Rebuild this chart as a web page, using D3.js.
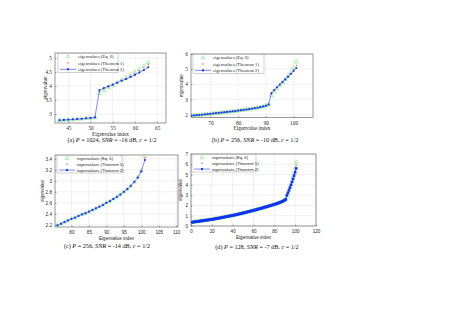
<!DOCTYPE html>
<html><head><meta charset="utf-8">
<script src="https://cdn.jsdelivr.net/npm/d3@7"></script>
<style>body{margin:0;background:#fff}svg{display:block}</style>
</head><body>
<script>
// ---------- DATA ----------
const legendLabels = ["eigenvalues (Eq. 6)", "eigenvalues (Theorem 1)", "eigenvalues (Theorem 2)"];

// (a) P = 1024, SNR = -16 dB
const idxA = [43,44,45,46,47,48,49,50,51,52,53,54,55,56,57,58,59,60,61,62,63];
const eqA  = [2.78,2.79,2.80,2.81,2.82,2.83,2.85,2.86,2.88,3.75,3.85,3.95,4.03,4.12,4.22,4.31,4.40,4.50,4.60,4.72,4.85];
const th1A = [2.78,2.79,2.80,2.81,2.82,2.83,2.85,2.86,2.88,3.80,3.89,3.97,4.04,4.12,4.20,4.28,4.36,4.45,4.54,4.65,4.76];
const th2A = [2.78,2.79,2.80,2.81,2.82,2.83,2.85,2.86,2.88,3.85,3.93,3.99,4.05,4.12,4.19,4.25,4.32,4.40,4.48,4.57,4.67];
const xTicksA = [45,50,55,60,65];
const yTicksA = [3,3.5,4,4.5,5];

// (b) P = 256, SNR = -10 dB
const idxB = [63,64,65,66,67,68,69,70,71,72,73,74,75,76,77,78,79,80,81,82,83,84,85,86,87,88,89,90,91,92,93,94,95,96,97,98,99,100,101];
const eqB  = [1.92,1.94,1.96,1.97,1.99,2.01,2.03,2.05,2.07,2.09,2.11,2.13,2.15,2.17,2.19,2.21,2.23,2.26,2.28,2.31,2.33,2.36,2.39,2.42,2.45,2.49,2.53,2.58,2.66,3.25,3.50,3.72,3.92,4.12,4.32,4.55,4.80,5.10,5.50];
const th1B = [1.92,1.94,1.96,1.97,1.99,2.01,2.03,2.05,2.07,2.09,2.11,2.13,2.15,2.17,2.19,2.21,2.23,2.26,2.28,2.31,2.33,2.36,2.39,2.42,2.45,2.49,2.53,2.58,2.66,3.35,3.57,3.77,3.96,4.14,4.32,4.52,4.73,4.97,5.25];
const th2B = [1.92,1.94,1.96,1.97,1.99,2.01,2.03,2.05,2.07,2.09,2.11,2.13,2.15,2.17,2.19,2.21,2.23,2.26,2.28,2.31,2.33,2.36,2.39,2.42,2.45,2.49,2.53,2.58,2.66,3.42,3.62,3.80,3.98,4.15,4.32,4.50,4.68,4.87,5.07];
const xTicksB = [70,80,90,100];
const yTicksB = [2,3,4,5,6];

// (c) P = 256, SNR = -14 dB
const idxC = [76,77,78,79,80,81,82,83,84,85,86,87,88,89,90,91,92,93,94,95,96,97,98,99,100,101];
const eqC  = [2.19,2.22,2.25,2.28,2.31,2.33,2.36,2.39,2.41,2.44,2.47,2.50,2.53,2.56,2.60,2.63,2.67,2.71,2.75,2.80,2.85,2.91,2.98,3.07,3.19,3.45];
const th1C = [2.19,2.22,2.25,2.28,2.31,2.33,2.36,2.39,2.41,2.44,2.47,2.50,2.53,2.56,2.60,2.63,2.67,2.71,2.75,2.80,2.85,2.91,2.98,3.06,3.18,3.42];
const th2C = [2.19,2.22,2.25,2.28,2.31,2.33,2.36,2.39,2.41,2.44,2.47,2.50,2.53,2.56,2.60,2.63,2.67,2.71,2.75,2.80,2.85,2.91,2.98,3.06,3.17,3.38];
const xTicksC = [80,85,90,95,100,105,110];
const yTicksC = [2.2,2.4,2.6,2.8,3,3.2,3.4];

// (d) P = 128, SNR = -7 dB
const idxD = [1,2,3,4,5,6,7,8,9,10,11,12,13,14,15,16,17,18,19,20,21,22,23,24,25,26,27,28,29,30,31,32,33,34,35,36,37,38,39,40,41,42,43,44,45,46,47,48,49,50,51,52,53,54,55,56,57,58,59,60,61,62,63,64,65,66,67,68,69,70,71,72,73,74,75,76,77,78,79,80,81,82,83,84,85,86,87,88,89,90,91,92,93,94,95,96,97,98,99,100,101];
const th2D = [0.37,0.38,0.40,0.41,0.43,0.44,0.45,0.47,0.48,0.50,0.51,0.53,0.54,0.56,0.57,0.58,0.60,0.61,0.63,0.64,0.66,0.68,0.70,0.72,0.74,0.75,0.77,0.79,0.81,0.83,0.85,0.87,0.89,0.91,0.93,0.95,0.97,0.99,1.01,1.03,1.05,1.07,1.10,1.12,1.14,1.17,1.19,1.21,1.24,1.26,1.29,1.31,1.34,1.36,1.39,1.41,1.44,1.47,1.49,1.52,1.55,1.57,1.60,1.63,1.66,1.69,1.71,1.74,1.77,1.80,1.83,1.86,1.89,1.92,1.95,1.98,2.01,2.04,2.07,2.10,2.13,2.17,2.20,2.24,2.28,2.32,2.36,2.41,2.46,2.52,2.60,2.98,3.22,3.47,3.73,4.00,4.28,4.58,4.90,5.22,5.60];
const th1D = [0.37,0.38,0.40,0.41,0.43,0.44,0.45,0.47,0.48,0.50,0.51,0.53,0.54,0.56,0.57,0.58,0.60,0.61,0.63,0.64,0.66,0.68,0.70,0.72,0.74,0.75,0.77,0.79,0.81,0.83,0.85,0.87,0.89,0.91,0.93,0.95,0.97,0.99,1.01,1.03,1.05,1.07,1.10,1.12,1.14,1.17,1.19,1.21,1.24,1.26,1.29,1.31,1.34,1.36,1.39,1.41,1.44,1.47,1.49,1.52,1.55,1.57,1.60,1.63,1.66,1.69,1.71,1.74,1.77,1.80,1.83,1.86,1.89,1.92,1.95,1.98,2.01,2.04,2.07,2.10,2.13,2.17,2.20,2.24,2.28,2.32,2.36,2.41,2.46,2.52,2.60,2.92,3.18,3.45,3.73,4.02,4.33,4.66,5.02,5.40,5.90];
const eqD  = [0.37,0.38,0.40,0.41,0.43,0.44,0.45,0.47,0.48,0.50,0.51,0.53,0.54,0.56,0.57,0.58,0.60,0.61,0.63,0.64,0.66,0.68,0.70,0.72,0.74,0.75,0.77,0.79,0.81,0.83,0.85,0.87,0.89,0.91,0.93,0.95,0.97,0.99,1.01,1.03,1.05,1.07,1.10,1.12,1.14,1.17,1.19,1.21,1.24,1.26,1.29,1.31,1.34,1.36,1.39,1.41,1.44,1.47,1.49,1.52,1.55,1.57,1.60,1.63,1.66,1.69,1.71,1.74,1.77,1.80,1.83,1.86,1.89,1.92,1.95,1.98,2.01,2.04,2.07,2.10,2.13,2.17,2.20,2.24,2.28,2.32,2.36,2.41,2.46,2.52,2.60,2.85,3.12,3.42,3.73,4.05,4.40,4.78,5.20,5.65,6.20];
const xTicksD = [0,20,40,60,80,100,120];
const yTicksD = [0,1,2,3,4,5,6,7];

// ---------- DRAW ----------
const W = 474, H = 335;
const svg = d3.select("body").append("svg").attr("width", W).attr("height", H);
const SERIF = "'Liberation Serif','Times New Roman',serif";
const SANS = "'Liberation Sans',Arial,sans-serif";

function panel(p) {
  const x = d3.scaleLinear().domain(p.xlim).range([p.l, p.r]);
  const y = d3.scaleLinear().domain(p.ylim).range([p.b, p.t]);
  const g = svg.append("g");
  // grid
  g.append("g").selectAll("line").data(p.xt).join("line")
    .attr("x1", d => x(d)).attr("x2", d => x(d)).attr("y1", p.t).attr("y2", p.b)
    .attr("stroke", "#e3e3e3").attr("stroke-width", 0.5);
  g.append("g").selectAll("line").data(p.yt).join("line")
    .attr("y1", d => y(d)).attr("y2", d => y(d)).attr("x1", p.l).attr("x2", p.r)
    .attr("stroke", "#e3e3e3").attr("stroke-width", 0.5);
  // axes with MATLAB-style inward ticks
  const ax = g.append("g").attr("transform", `translate(0,${p.b})`)
    .call(d3.axisBottom(x).tickValues(p.xt).tickSize(-1.5).tickPadding(3.5).tickFormat(d3.format("")));
  const ay = g.append("g").attr("transform", `translate(${p.l},0)`)
    .call(d3.axisLeft(y).tickValues(p.yt).tickSize(-1.5).tickPadding(3).tickFormat(d => String(+d.toFixed(2))));
  [ax, ay].forEach(a => {
    a.select(".domain").remove();
    a.selectAll("line").attr("stroke", "#333").attr("stroke-width", 0.4);
    a.selectAll("text").attr("font-family", p.font).attr("font-size", p.fs).attr("fill", "#262626");
  });
  // box
  g.append("rect").attr("x", p.l).attr("y", p.t).attr("width", p.r - p.l).attr("height", p.b - p.t)
    .attr("fill", "none").attr("stroke", "#333").attr("stroke-width", 0.5);

  const clip = "clip" + p.id;
  svg.append("clipPath").attr("id", clip).append("rect")
    .attr("x", p.l).attr("y", p.t - 6).attr("width", p.r - p.l).attr("height", p.b - p.t + 6);
  const plot = g.append("g").attr("clip-path", `url(#${clip})`);

  const pts = (vals) => p.idx.map((d, i) => [d, vals[i]]);
  // green triangles (Eq. 6)
  const ts = p.tri;
  plot.append("g").selectAll("path").data(pts(p.eq)).join("path")
    .attr("d", d => `M${x(d[0])},${y(d[1]) - ts}L${x(d[0]) + ts * 0.9},${y(d[1]) + ts * 0.6}L${x(d[0]) - ts * 0.9},${y(d[1]) + ts * 0.6}Z`)
    .attr("fill", "none").attr("stroke", "#5fe05f").attr("stroke-width", 0.5);
  // red dots (Theorem 1)
  plot.append("g").selectAll("circle").data(pts(p.th1)).join("circle")
    .attr("cx", d => x(d[0])).attr("cy", d => y(d[1])).attr("r", 0.65).attr("fill", "#ff3030");
  // blue line + squares (Theorem 2)
  plot.append("path").datum(pts(p.th2))
    .attr("d", d3.line().x(d => x(d[0])).y(d => y(d[1])))
    .attr("fill", "none").attr("stroke", "#5a6cff").attr("stroke-width", 0.8);
  const ss = p.sq;
  plot.append("g").selectAll("rect").data(pts(p.th2)).join("rect")
    .attr("x", d => x(d[0]) - ss / 2).attr("y", d => y(d[1]) - ss / 2)
    .attr("width", ss).attr("height", ss).attr("fill", "#1430ff");

  // legend
  const L = p.leg;
  const lg = g.append("g").attr("transform", `translate(${L.x},${L.y})`);
  lg.append("rect").attr("width", L.w).attr("height", L.h).attr("fill", "#fff")
    .attr("stroke", "#8a8a8a").attr("stroke-width", 0.4);
  const rowH = L.h / 3;
  legendLabels.forEach((t, i) => {
    const cy = rowH * (i + 0.5);
    if (i === 0) {
      lg.append("path").attr("d", `M10,${cy - 2}L11.8,${cy + 1.2}L8.2,${cy + 1.2}Z`)
        .attr("fill", "none").attr("stroke", "#5fe05f").attr("stroke-width", 0.5);
    } else if (i === 1) {
      lg.append("circle").attr("cx", 10).attr("cy", cy).attr("r", 0.65).attr("fill", "#ff3030");
    } else {
      lg.append("line").attr("x1", 2).attr("x2", 18).attr("y1", cy).attr("y2", cy)
        .attr("stroke", "#5a6cff").attr("stroke-width", 0.8);
      lg.append("rect").attr("x", 9).attr("y", cy - 1).attr("width", 2).attr("height", 2).attr("fill", "#1430ff");
    }
    lg.append("text").attr("x", 20).attr("y", cy).attr("dy", "0.35em")
      .attr("font-family", p.font).attr("font-size", L.fs).attr("fill", "#222").text(t);
  });

  // axis labels
  g.append("text").attr("x", (p.l + p.r) / 2).attr("y", p.b + 11).attr("dy", "0.35em")
    .attr("text-anchor", "middle").attr("font-family", p.font).attr("font-size", p.fs).attr("fill", "#262626")
    .text("Eigenvalue index");
  g.append("text").attr("transform", `translate(${p.ylx},${(p.t + p.b) / 2}) rotate(-90)`)
    .attr("dy", "0.35em").attr("text-anchor", "middle").attr("font-family", p.font)
    .attr("font-size", p.fs).attr("fill", "#262626").text("eigenvalue");

  // caption
  const c = g.append("text").attr("x", p.cx).attr("y", p.cy).attr("dy", "0.35em")
    .attr("text-anchor", "middle").attr("font-family", SERIF).attr("font-size", 6.2).attr("fill", "#111");
  p.cap.forEach(s => c.append("tspan").attr("font-style", s[1] ? "italic" : "normal").text(s[0]));
}

panel({id: "a", idx: idxA, eq: eqA, th1: th1A, th2: th2A, xt: xTicksA, yt: yTicksA,
  xlim: [42, 67], ylim: [2.68, 5.18], l: 55, r: 166, t: 53, b: 123, font: SERIF, fs: 5.3, tri: 2.2, sq: 1.8,
  leg: {x: 58, y: 53.5, w: 60, h: 19, fs: 4.6}, ylx: 45, cx: 112, cy: 140,
  cap: [["(a) ", 0], ["P", 1], [" = 1024, ", 0], ["SNR", 1], [" = -16 dB, ", 0], ["c", 1], [" = 1/2", 0]]});

panel({id: "b", idx: idxB, eq: eqB, th1: th1B, th2: th2B, xt: xTicksB, yt: yTicksB,
  xlim: [63, 107], ylim: [1.8, 6], l: 191, r: 313, t: 54, b: 117.5, font: SERIF, fs: 5.3, tri: 2.2, sq: 1.8,
  leg: {x: 193, y: 54.5, w: 71, h: 19, fs: 4.6}, ylx: 181, cx: 255, cy: 139.5,
  cap: [["(b) ", 0], ["P", 1], [" = 256, ", 0], ["SNR", 1], [" = -10 dB, ", 0], ["c", 1], [" = 1/2", 0]]});

panel({id: "c", idx: idxC, eq: eqC, th1: th1C, th2: th2C, xt: xTicksC, yt: yTicksC,
  xlim: [75.3, 110.5], ylim: [2.16, 3.47], l: 55, r: 178, t: 155, b: 227, font: SANS, fs: 4.6, tri: 2.0, sq: 1.8,
  leg: {x: 57, y: 155.5, w: 65, h: 17.5, fs: 4.2}, ylx: 42, cx: 107, cy: 245.7,
  cap: [["(c) ", 0], ["P", 1], [" = 256, ", 0], ["SNR", 1], [" = -14 dB, ", 0], ["c", 1], [" = 1/2", 0]]});

panel({id: "d", idx: idxD, eq: eqD, th1: th1D, th2: th2D, xt: xTicksD, yt: yTicksD,
  xlim: [0, 120], ylim: [0, 7], l: 191, r: 316, t: 154, b: 226, font: SANS, fs: 4.6, tri: 2.0, sq: 2.6,
  leg: {x: 192, y: 154.5, w: 64, h: 17.5, fs: 4.2}, ylx: 180, cx: 257, cy: 247,
  cap: [["(d) ", 0], ["P", 1], [" = 128, ", 0], ["SNR", 1], [" = -7 dB, ", 0], ["c", 1], [" = 1/2", 0]]});
</script>
</body></html>
